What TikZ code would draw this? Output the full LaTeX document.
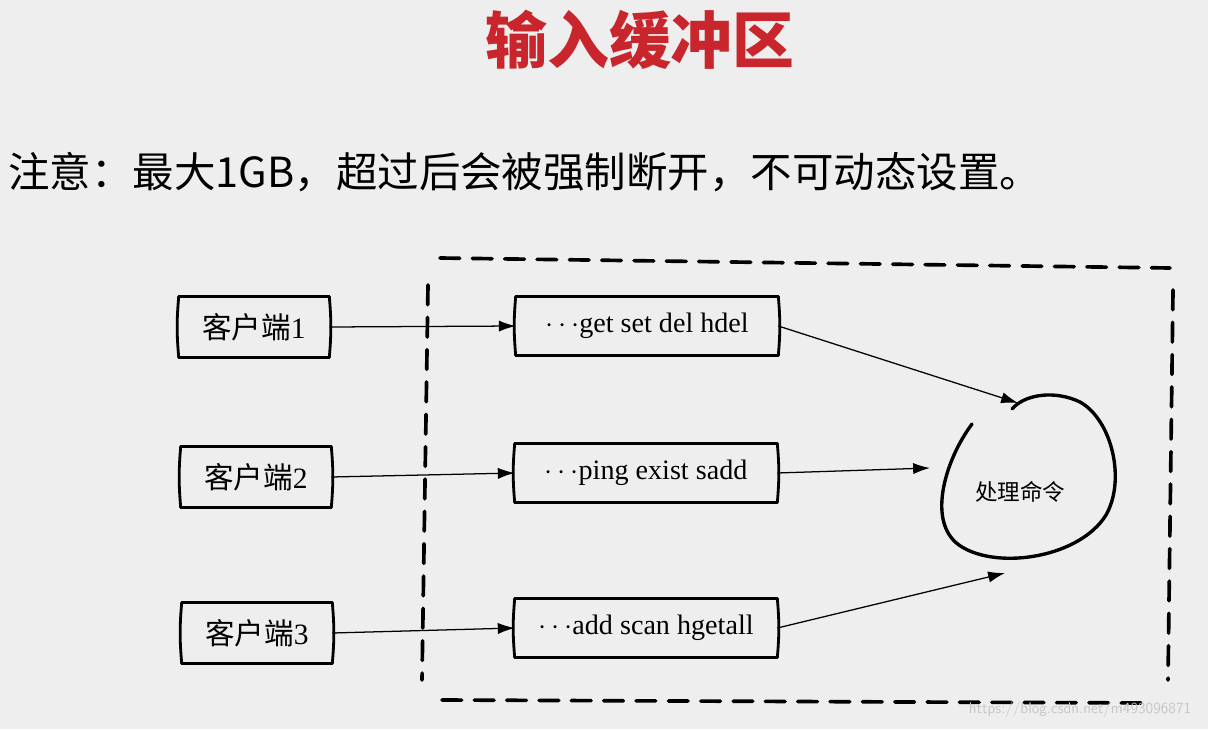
\documentclass[tikz,border=0pt]{standalone}
\usepackage{fontspec}
\usepackage{tikz}
\usetikzlibrary{arrows.meta, positioning}
\setmainfont{Liberation Serif}
\newfontfamily\cjk{Noto Sans CJK SC}
\definecolor{titlered}{RGB}{200,38,44}
\definecolor{pagebg}{RGB}{238,238,238}

\begin{document}
\begin{tikzpicture}[
  x=0.025cm, y=-0.025cm,
  clientbox/.style={minimum width=3.75cm, minimum height=1.5cm, inner sep=0pt, font=\fontsize{21}{24}\selectfont},
  cmdbox/.style={minimum width=6.55cm, minimum height=1.45cm, inner sep=0pt, font=\fontsize{20}{23}\selectfont},
  boxline/.style={line width=2pt, line cap=round},
  frame/.style={line width=2.6pt, dash pattern=on 14pt off 9pt, line cap=round},
  arrow/.style={-{Latex[length=12pt, width=8pt]}, line width=0.9pt}
]
  % page
  \fill[pagebg] (0,0) rectangle (1208,729);
  \useasboundingbox (0,0) rectangle (1208,729);

  % heading
  \node[titlered, font=\cjk\bfseries\fontsize{44}{48}\selectfont] (title) at (640,40) {输入缓冲区};
  \node[anchor=west, font=\cjk\fontsize{29.5}{34}\selectfont, inner sep=0pt] (note) at (8,172)
    {注意：最大1GB，超过后会被强制断开，不可动态设置。};

  % buffer frame
  \draw[frame] (440,258) -- (1170,268);
  \draw[frame] (428,285) -- (422,680);
  \draw[frame] (1173,290) -- (1168,680);
  \draw[frame] (442,700) -- (1150,703);

  % clients
  \node[clientbox] (c1) at (254,327) {{\cjk 客户端}1};
  \node[clientbox] (c2) at (256,477) {{\cjk 客户端}2};
  \node[clientbox] (c3) at (257,633) {{\cjk 客户端}3};

  % input buffers
  \node[cmdbox] (q1) at (647,326) {$\cdots$get set del hdel};
  \node[cmdbox] (q2) at (646,473) {$\cdots$ping exist sadd};
  \node[cmdbox] (q3) at (646,628) {$\cdots$add scan hgetall};

  \foreach \n in {c1, c2, c3, q1, q2, q3} {
    \draw[boxline] (\n.north west) -- (\n.north east);
    \draw[boxline] (\n.south west) -- (\n.south east);
    \draw[boxline] (\n.north west) to[bend right=5] (\n.south west);
    \draw[boxline] (\n.north east) to[bend left=5] (\n.south east);
  }

  % command processor
  \node[font=\cjk\fontsize{16}{18}\selectfont] (proc) at (1020,492) {处理命令};
  \draw[line width=2.4pt, line cap=round] (972,424) .. controls (945,460) and (925,525) .. (962,547)
    .. controls (1000,570) and (1080,557) .. (1106,515)
    .. controls (1126,480) and (1112,420) .. (1080,402)
    .. controls (1055,390) and (1025,394) .. (1012,409);
  \coordinate (in1) at (1018,403);
  \coordinate (in2) at (930,468);
  \coordinate (in3) at (1005,573);

  % connections
  \draw[arrow] (c1.east) -- (q1.west);
  \draw[arrow] (c2.east) -- (q2.west);
  \draw[arrow] (c3.east) -- (q3.west);
  \draw[arrow] (q1.east) -- (in1);
  \draw[arrow] (q2.east) -- (in2);
  \draw[arrow] (q3.east) -- (in3);

  % watermark
  \node[gray!45, font=\sffamily\fontsize{11}{13}\selectfont] (mark) at (1080,710) {https://blog.csdn.net/m493096871};
\end{tikzpicture}
\end{document}
